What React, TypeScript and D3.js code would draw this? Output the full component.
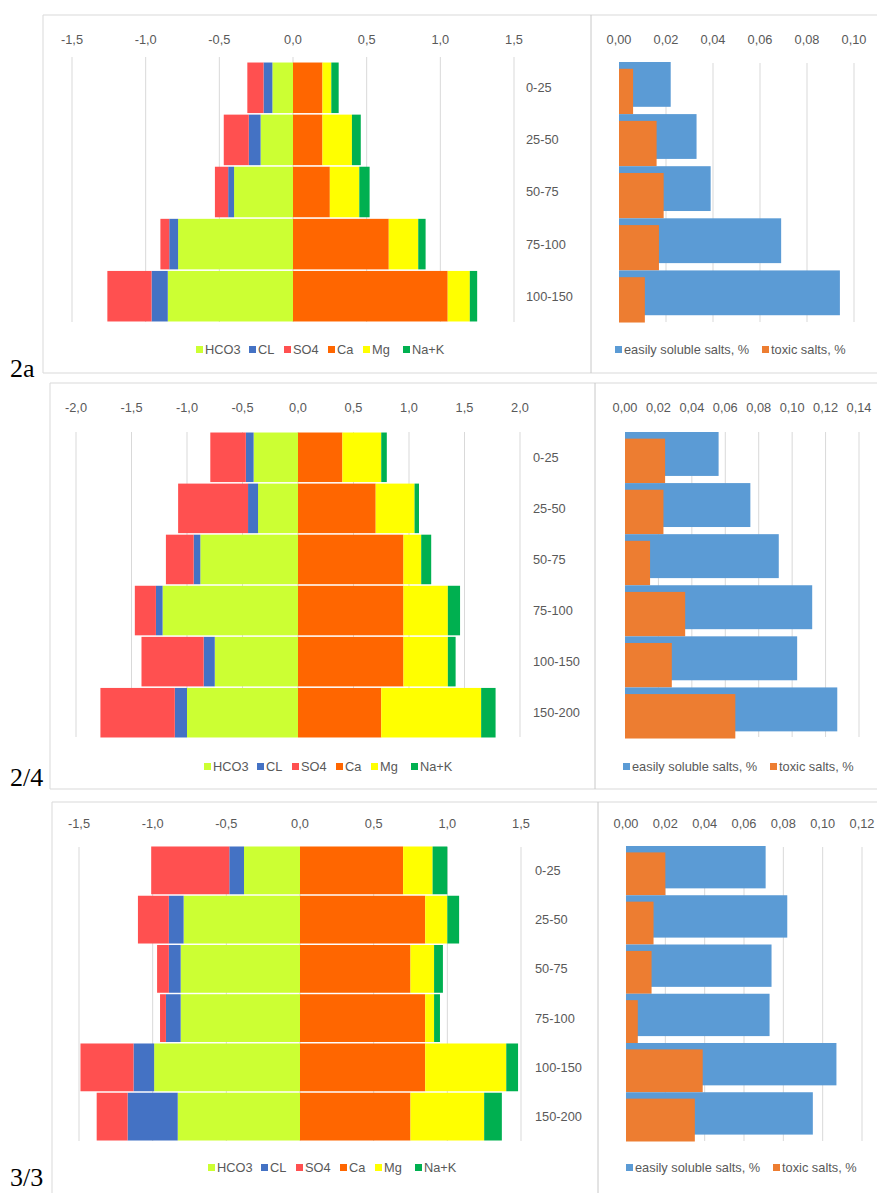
import React from "react";
import * as d3 from "d3";

// ---------- DATA ----------
const categories5 = ["0-25", "25-50", "50-75", "75-100", "100-150"];
const categories6 = ["0-25", "25-50", "50-75", "75-100", "100-150", "150-200"];

const ionKeys = ["HCO3", "CL", "SO4", "Ca", "Mg", "Na+K"];
const ionColors = ["#CCFF33", "#4472C4", "#FF5050", "#FF6600", "#FFFF00", "#00B050"];
const saltKeys = ["easily soluble salts, %", "toxic salts, %"];
const saltColors = ["#5B9BD5", "#ED7D31"];

// panel 2a
const hco3_2a = [0.14, 0.22, 0.4, 0.78, 0.85];
const cl_2a = [0.06, 0.08, 0.04, 0.06, 0.11];
const so4_2a = [0.11, 0.17, 0.09, 0.06, 0.3];
const ca_2a = [0.2, 0.2, 0.25, 0.65, 1.05];
const mg_2a = [0.06, 0.2, 0.2, 0.2, 0.15];
const nak_2a = [0.05, 0.06, 0.07, 0.05, 0.05];
const soluble_2a = [0.022, 0.033, 0.039, 0.069, 0.094];
const toxic_2a = [0.006, 0.016, 0.019, 0.017, 0.011];

// panel 2/4
const hco3_24 = [0.4, 0.36, 0.88, 1.22, 0.75, 1.0];
const cl_24 = [0.07, 0.09, 0.06, 0.06, 0.1, 0.11];
const so4_24 = [0.32, 0.63, 0.25, 0.19, 0.56, 0.67];
const ca_24 = [0.4, 0.7, 0.95, 0.95, 0.95, 0.75];
const mg_24 = [0.35, 0.35, 0.16, 0.4, 0.4, 0.9];
const nak_24 = [0.05, 0.04, 0.09, 0.11, 0.07, 0.13];
const soluble_24 = [0.056, 0.075, 0.092, 0.112, 0.103, 0.127];
const toxic_24 = [0.024, 0.023, 0.015, 0.036, 0.028, 0.066];

// panel 3/3
const hco3_33 = [0.38, 0.79, 0.81, 0.81, 0.99, 0.83];
const cl_33 = [0.1, 0.1, 0.08, 0.1, 0.14, 0.34];
const so4_33 = [0.53, 0.21, 0.08, 0.04, 0.36, 0.21];
const ca_33 = [0.7, 0.85, 0.75, 0.85, 0.85, 0.75];
const mg_33 = [0.2, 0.15, 0.16, 0.06, 0.55, 0.5];
const nak_33 = [0.1, 0.08, 0.06, 0.04, 0.08, 0.12];
const soluble_33 = [0.071, 0.082, 0.074, 0.073, 0.107, 0.095];
const toxic_33 = [0.02, 0.014, 0.013, 0.006, 0.039, 0.035];

const ionTicks_2a = [-1.5, -1.0, -0.5, 0, 0.5, 1.0, 1.5];
const ionTicks_24 = [-2.0, -1.5, -1.0, -0.5, 0, 0.5, 1.0, 1.5, 2.0];
const ionTicks_33 = [-1.5, -1.0, -0.5, 0, 0.5, 1.0, 1.5];
const saltTicks_2a = [0, 0.02, 0.04, 0.06, 0.08, 0.1];
const saltTicks_24 = [0, 0.02, 0.04, 0.06, 0.08, 0.1, 0.12, 0.14];
const saltTicks_33 = [0, 0.02, 0.04, 0.06, 0.08, 0.1, 0.12];

// ---------- LAYOUT ----------
const panels = [
  {
    label: "2a", labelY: 377,
    categories: categories5,
    anions: [hco3_2a, cl_2a, so4_2a], cations: [ca_2a, mg_2a, nak_2a],
    salts: [soluble_2a, toxic_2a],
    ionTicks: ionTicks_2a, saltTicks: saltTicks_2a,
    frame: { left: 43, sep: 591, top: 15, bottom: 373 },
    ionX: [72, 514], saltX: [619, 854],
    rows: [62, 322], gridIon: [57, 322], gridSalt: [63, 322],
    tickY: 44, catX: 526, legendY: 350, legendX: 196, saltLegendX: 615,
  },
  {
    label: "2/4", labelY: 786,
    categories: categories6,
    anions: [hco3_24, cl_24, so4_24], cations: [ca_24, mg_24, nak_24],
    salts: [soluble_24, toxic_24],
    ionTicks: ionTicks_24, saltTicks: saltTicks_24,
    frame: { left: 50, sep: 595, top: 383, bottom: 789 },
    ionX: [76, 520], saltX: [625, 859],
    rows: [432, 738], gridIon: [432, 737], gridSalt: [432, 737],
    tickY: 412, catX: 533, legendY: 767, legendX: 204, saltLegendX: 623,
  },
  {
    label: "3/3", labelY: 1186,
    categories: categories6,
    anions: [hco3_33, cl_33, so4_33], cations: [ca_33, mg_33, nak_33],
    salts: [soluble_33, toxic_33],
    ionTicks: ionTicks_33, saltTicks: saltTicks_33,
    frame: { left: 52, sep: 598, top: 802, bottom: 1200 },
    ionX: [79, 521], saltX: [626, 862],
    rows: [846, 1141], gridIon: [847, 1141], gridSalt: [847, 1141],
    tickY: 828, catX: 535, legendY: 1168, legendX: 208, saltLegendX: 626,
  },
];

const legendOffsets = [0, 53, 88, 132, 167, 207];
const FONT = "'Liberation Sans', Arial, sans-serif";
const FS = 12.8;
const TXT = "#595959";
const GRID = "#D9D9D9";

const loc = d3.formatLocale({ decimal: ",", thousands: " ", grouping: [3], currency: ["", ""], minus: "-" });
const fmt1 = loc.format(".1f");
const fmt2 = loc.format(".2f");

function Panel({ p }: { p: any }) {
  const W = 877;
  const x = d3.scaleLinear().domain([p.ionTicks[0], p.ionTicks[p.ionTicks.length - 1]]).range(p.ionX);
  const xs = d3.scaleLinear().domain([0, p.saltTicks[p.saltTicks.length - 1]]).range(p.saltX);
  const y = d3.scaleBand<string>().domain(p.categories).range(p.rows).paddingInner(0.03).paddingOuter(0.01);
  const step = y.step();

  const rows = p.categories.map((c: string, i: number) => {
    const r: any = { cat: c };
    r["HCO3"] = -p.anions[0][i];
    r["CL"] = -p.anions[1][i];
    r["SO4"] = -p.anions[2][i];
    r["Ca"] = p.cations[0][i];
    r["Mg"] = p.cations[1][i];
    r["Na+K"] = p.cations[2][i];
    return r;
  });
  const stack = d3.stack<any>().keys(ionKeys).offset(d3.stackOffsetDiverging)(rows);

  const f = p.frame;
  return (
    <g>
      {/* frame */}
      <line x1={f.left} x2={W} y1={f.top} y2={f.top} stroke={GRID} />
      <line x1={f.left} x2={W} y1={f.bottom} y2={f.bottom} stroke={GRID} />
      <line x1={f.left} x2={f.left} y1={f.top} y2={f.bottom} stroke={GRID} />
      <line x1={f.sep} x2={f.sep} y1={f.top} y2={f.bottom} stroke="#C8C8C8" />

      {/* ion chart gridlines and ticks */}
      {p.ionTicks.map((t: number) => (
        <g key={"g" + t}>
          <line x1={x(t)} x2={x(t)} y1={p.gridIon[0]} y2={p.gridIon[1]} stroke={GRID} />
          <text x={x(t)} y={p.tickY} textAnchor="middle" fontSize={FS} fill={TXT} fontFamily={FONT}>{fmt1(t)}</text>
        </g>
      ))}
      {/* ion bars */}
      {stack.map((s: any, k: number) => (
        <g key={s.key} fill={ionColors[k]}>
          {s.map((d: any, i: number) => (
            <rect key={i} x={x(Math.min(d[0], d[1]))} width={Math.abs(x(d[1]) - x(d[0]))}
              y={y(p.categories[i])} height={y.bandwidth()} />
          ))}
        </g>
      ))}
      {/* category labels */}
      {p.categories.map((c: string) => (
        <text key={c} x={p.catX} y={(y(c) as number) + y.bandwidth() / 2} dy="0.35em" fontSize={FS} fill={TXT} fontFamily={FONT}>{c}</text>
      ))}
      {/* ion legend */}
      {ionKeys.map((k, i) => (
        <g key={k}>
          <rect x={p.legendX + legendOffsets[i]} y={p.legendY - 4} width={7} height={7} fill={ionColors[i]} />
          <text x={p.legendX + legendOffsets[i] + 9} y={p.legendY} dy="0.35em" fontSize={FS} fill={TXT} fontFamily={FONT}>{k}</text>
        </g>
      ))}

      {/* salt chart */}
      {p.saltTicks.map((t: number) => (
        <g key={"s" + t}>
          {t > 0 && <line x1={xs(t)} x2={xs(t)} y1={p.gridSalt[0]} y2={p.gridSalt[1]} stroke={GRID} />}
          <text x={xs(t)} y={p.tickY} textAnchor="middle" fontSize={FS} fill={TXT} fontFamily={FONT}>{fmt2(t)}</text>
        </g>
      ))}
      {p.categories.map((c: string, i: number) => {
        const y0 = (p.rows[0] as number) + step * i;
        return (
          <g key={"b" + c}>
            <rect x={xs(0)} width={xs(p.salts[0][i]) - xs(0)} y={y0} height={step * 0.86} fill={saltColors[0]} />
            <rect x={xs(0)} width={xs(p.salts[1][i]) - xs(0)} y={y0 + step * 0.13} height={step * 0.87} fill={saltColors[1]} />
          </g>
        );
      })}
      {saltKeys.map((k, i) => (
        <g key={k}>
          <rect x={p.saltLegendX + i * 147} y={p.legendY - 4} width={7} height={7} fill={saltColors[i]} />
          <text x={p.saltLegendX + i * 147 + 9} y={p.legendY} dy="0.35em" fontSize={FS} fill={TXT} fontFamily={FONT}>{k}</text>
        </g>
      ))}

      {/* panel label */}
      <text x={10} y={p.labelY} fontSize={26} fill="#000" fontFamily="'Liberation Serif', 'Times New Roman', serif">{p.label}</text>
    </g>
  );
}

export default function App() {
  return (
    <svg width={877} height={1193} style={{ position: "absolute", left: 0, top: 0, background: "#fff" }}>
      <rect width={877} height={1193} fill="#fff" />
      {panels.map((p) => (
        <Panel key={p.label} p={p} />
      ))}
    </svg>
  );
}
